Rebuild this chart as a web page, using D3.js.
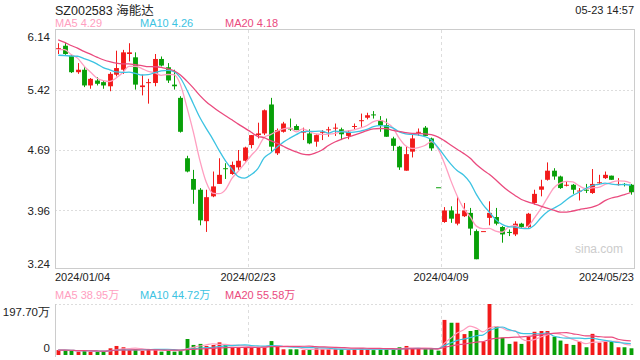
<!DOCTYPE html>
<html>
<head>
<meta charset="utf-8">
<script src="https://cdn.jsdelivr.net/npm/d3@7"></script>
<style>
  body { margin: 0; background: #fff; }
  svg { display: block; font-family: "Liberation Sans", Arial, "Noto Sans CJK SC", sans-serif; }
</style>
</head>
<body>
<div id="chart"></div>
<script>
// SZ002583 daily k-line, 2024/01/04 - 2024/05/23
const title = 'SZ002583 海能达';
const stamp = '05-23 14:57';

// closes of the sessions before 01/04, only used to seed the moving averages
const prevCloses = [6.45, 6.38, 6.30, 6.26, 6.22, 6.18, 6.12, 6.08, 6.04, 6.02,
  5.88, 5.70, 5.68, 5.75, 5.82, 5.86, 5.92, 5.88, 5.94];

const open = [5.91, 5.95, 5.83, 5.63, 5.66, 5.47, 5.53, 5.51, 5.46, 5.60,
  5.66, 5.85, 5.81, 5.45, 5.50, 5.50, 5.79, 5.69, 5.48, 5.32,
  4.59, 4.34, 4.21, 3.83, 4.13, 4.28, 4.47, 4.40, 4.48, 4.56,
  4.75, 4.87, 4.89, 5.24, 4.65, 4.91, 4.95, 4.98, 4.90, 4.89,
  4.79, 4.90, 4.93, 4.95, 4.94, 4.86, 4.97, 5.04, 5.08, 5.12,
  5.05, 4.99, 4.83, 4.73, 4.44, 4.67, 4.90, 4.96, 4.83, 4.24,
  3.82, 3.96, 3.80, 3.89, 3.93, 3.71, 3.71, 3.87, 3.88, 3.76,
  3.70, 3.67, 3.80, 3.76, 4.05, 4.21, 4.33, 4.44, 4.37, 4.26,
  4.27, 4.19, 4.21, 4.17, 4.29, 4.35, 4.38, 4.27, 4.28, 4.27];

const high = [5.98, 5.99, 5.84, 5.74, 5.69, 5.56, 5.57, 5.53, 5.63, 5.89,
  5.90, 5.98, 5.87, 5.60, 5.55, 5.85, 5.82, 5.74, 5.66, 5.34,
  4.62, 4.45, 4.23, 4.21, 4.43, 4.59, 4.53, 4.55, 4.69, 4.73,
  4.87, 5.02, 5.18, 5.32, 4.95, 5.03, 5.07, 5.00, 4.96, 4.94,
  4.88, 4.93, 4.97, 5.01, 4.96, 4.93, 5.01, 5.13, 5.14, 5.16,
  5.10, 5.07, 4.85, 4.74, 4.73, 4.88, 4.95, 4.98, 4.84, 4.24,
  4.00, 4.01, 4.13, 4.05, 3.99, 3.73, 3.71, 4.07, 3.99, 3.77,
  3.73, 3.83, 3.81, 3.93, 4.21, 4.33, 4.54, 4.47, 4.38, 4.31,
  4.28, 4.23, 4.28, 4.46, 4.39, 4.43, 4.38, 4.35, 4.29, 4.28];

const low = [5.85, 5.84, 5.62, 5.61, 5.45, 5.43, 5.47, 5.43, 5.40, 5.58,
  5.61, 5.76, 5.42, 5.35, 5.25, 5.46, 5.70, 5.50, 5.42, 4.90,
  4.42, 4.04, 3.78, 3.70, 4.12, 4.28, 4.34, 4.39, 4.45, 4.55,
  4.71, 4.83, 4.87, 4.67, 4.63, 4.90, 4.92, 4.93, 4.81, 4.76,
  4.73, 4.81, 4.85, 4.86, 4.81, 4.82, 4.94, 4.97, 5.06, 5.07,
  4.91, 4.85, 4.68, 4.45, 4.44, 4.60, 4.86, 4.86, 4.68, 4.24,
  3.81, 3.81, 3.78, 3.88, 3.66, 3.37, 3.71, 3.78, 3.78, 3.57,
  3.65, 3.65, 3.75, 3.75, 4.03, 4.13, 4.32, 4.33, 4.22, 4.25,
  4.16, 4.08, 4.17, 4.16, 4.28, 4.34, 4.33, 4.26, 4.25, 4.15];

const close = [5.92, 5.85, 5.63, 5.66, 5.47, 5.55, 5.49, 5.47, 5.61, 5.68,
  5.87, 5.87, 5.48, 5.47, 5.51, 5.79, 5.71, 5.53, 5.46, 4.91,
  4.43, 4.21, 3.84, 4.12, 4.25, 4.39, 4.46, 4.51, 4.56, 4.72,
  4.87, 4.89, 5.17, 4.73, 4.93, 5.01, 4.94, 4.93, 4.92, 4.77,
  4.87, 4.91, 4.94, 4.96, 4.88, 4.91, 4.98, 5.05, 5.11, 5.11,
  4.99, 4.85, 4.74, 4.48, 4.64, 4.83, 4.91, 4.86, 4.71, 4.24,
  3.96, 3.86, 3.92, 3.96, 3.74, 3.37, 3.71, 3.93, 3.80, 3.67,
  3.69, 3.80, 3.76, 3.92, 4.16, 4.25, 4.44, 4.37, 4.23, 4.27,
  4.21, 4.20, 4.20, 4.28, 4.30, 4.39, 4.33, 4.28, 4.27, 4.18];

// volume, in 万 shares
const volume = [19, 19, 17, 13, 17, 12, 13, 13, 26, 35,
  30, 19, 22, 16, 22, 22, 13, 17, 13, 17,
  62, 39, 43, 35, 39, 49, 39, 30, 30, 30,
  30, 30, 30, 54, 35, 22, 22, 22, 19, 22,
  26, 23, 23, 23, 23, 19, 23, 26, 23, 19,
  23, 23, 23, 30, 35, 26, 26, 23, 23, 17,
  136, 125, 125, 81, 93, 97, 52, 197.7, 112, 67,
  43, 52, 43, 71, 90, 93, 93, 71, 56, 43,
  39, 52, 30, 82, 48, 52, 52, 30, 30, 26];

const priceTicks = [6.14, 5.42, 4.69, 3.96, 3.24];
const volTicks = [197.70, 0];
const dateTicks = [0, 30, 60, 89];
const dateLabels = ['2024/01/04', '2024/02/23', '2024/04/09', '2024/05/23'];
const maPeriods = [5, 10, 20];
const maColors = ['#ff9ec0', '#3cc3e2', '#ea4a7e'];
const priceLegend = ['MA5 4.29', 'MA10 4.26', 'MA20 4.18'];
const volLegend = ['MA5 38.95万', 'MA10 44.72万', 'MA20 55.58万'];

const width = 640, height = 360;
const left = 55, right = 634;
const pTop = 30, pBottom = 270;
const vTop = 304, vBottom = 355;
const upColor = '#f21a1a', downColor = '#08a008';
const n = close.length;

const svg = d3.select('#chart').append('svg')
  .attr('width', width).attr('height', height);

const x = d3.scaleLinear().domain([0, n]).range([left, right]);
const y = d3.scaleLinear().domain([3.24, 6.14]).range([pBottom, pTop]);
const yv = d3.scaleLinear().domain([0, 197.70]).range([vBottom, vTop]);
const step = x(1) - x(0);
const bodyW = step * 0.76;
const cx = i => x(i + 0.5);

const isUp = i => close[i] > open[i] ||
  (close[i] === open[i] && close[i] >= (i ? close[i - 1] : prevCloses[prevCloses.length - 1]));

// moving averages of close (seeded with earlier closes) and of volume
const allClose = prevCloses.concat(close);
const off = prevCloses.length;
const priceMA = maPeriods.map(p => close.map((c, i) =>
  d3.mean(allClose.slice(Math.max(0, i + off - p + 1), i + off + 1))));
const volMA = maPeriods.map(p => volume.map((v, i) =>
  d3.mean(volume.slice(Math.max(0, i - p + 1), i + 1))));

// header
svg.append('text').attr('x', left).attr('y', 15)
  .attr('font-size', 12.5).attr('fill', '#222').text(title);
svg.append('text').attr('x', right).attr('y', 14).attr('text-anchor', 'end')
  .attr('font-size', 11).attr('fill', '#222').text(stamp);

const legendX = [55, 140, 225];
svg.append('g').selectAll('text').data(priceLegend).join('text')
  .attr('x', (d, k) => legendX[k]).attr('y', 27)
  .attr('font-size', 11).attr('fill', (d, k) => maColors[k]).text(d => d);
svg.append('g').selectAll('text').data(volLegend).join('text')
  .attr('x', (d, k) => legendX[k]).attr('y', 299)
  .attr('font-size', 11).attr('fill', (d, k) => maColors[k]).text(d => d);

// grid
const grid = svg.append('g');
grid.selectAll('.hg').data(priceTicks.slice(1, -1)).join('line')
  .attr('x1', left).attr('x2', right)
  .attr('y1', d => Math.round(y(d)) + 0.5).attr('y2', d => Math.round(y(d)) + 0.5)
  .attr('stroke', '#ddd').attr('stroke-dasharray', '2,2');
grid.selectAll('.vg').data(dateTicks.slice(1, -1)).join('line')
  .attr('x1', d => Math.round(x(d)) + 0.5).attr('x2', d => Math.round(x(d)) + 0.5)
  .attr('y1', pTop).attr('y2', pBottom)
  .attr('stroke', '#ddd').attr('stroke-dasharray', '3,3');
grid.selectAll('.vg2').data(dateTicks.slice(1, -1)).join('line')
  .attr('x1', d => Math.round(x(d)) + 0.5).attr('x2', d => Math.round(x(d)) + 0.5)
  .attr('y1', vTop).attr('y2', vBottom)
  .attr('stroke', '#ddd').attr('stroke-dasharray', '3,3');
grid.append('line').attr('x1', left).attr('x2', right)
  .attr('y1', vTop + 0.5).attr('y2', vTop + 0.5)
  .attr('stroke', '#ddd').attr('stroke-dasharray', '2,2');

// price panel frame
svg.append('rect').attr('x', left + 0.5).attr('y', pTop - 0.5)
  .attr('width', right - left).attr('height', pBottom - pTop - 1)
  .attr('fill', 'none').attr('stroke', '#ccc');
svg.append('line').attr('x1', left + 0.5).attr('x2', left + 0.5)
  .attr('y1', vTop).attr('y2', vBottom + 2).attr('stroke', '#ccc');

svg.append('text').attr('x', 623).attr('y', 253).attr('text-anchor', 'end')
  .attr('font-size', 12).attr('fill', '#ccc').text('sina.com');

// y axes
const yAxis = svg.append('g').attr('transform', `translate(${left},0)`)
  .call(d3.axisLeft(y).tickValues(priceTicks).tickFormat(d3.format('.2f')).tickSize(0).tickPadding(5));
yAxis.select('.domain').remove();
yAxis.selectAll('text').attr('font-size', 11.5).attr('fill', '#222')
  .attr('font-family', null)
  .attr('dy', (d, k) => k === 0 ? '0.95em' : (k === priceTicks.length - 1 ? '-0.25em' : '0.32em'));

const vAxis = svg.append('g').attr('transform', `translate(${left},0)`)
  .call(d3.axisLeft(yv).tickValues(volTicks).tickFormat(d => d ? d3.format('.2f')(d) + '万' : '0').tickSize(0).tickPadding(5));
vAxis.select('.domain').remove();
vAxis.selectAll('text').attr('font-size', 11.5).attr('fill', '#222')
  .attr('font-family', null)
  .attr('dy', d => d ? '1.0em' : '-0.3em');

// date labels
svg.append('g').selectAll('text').data(dateTicks).join('text')
  .attr('x', (d, k) => k === 0 ? x(d) : (k === dateTicks.length - 1 ? x(d + 1) : x(d)))
  .attr('y', 281)
  .attr('text-anchor', (d, k) => k === 0 ? 'start' : (k === dateTicks.length - 1 ? 'end' : 'middle'))
  .attr('font-size', 11).attr('fill', '#222')
  .text((d, k) => dateLabels[k]);

// candles
const idx = d3.range(n);
const candles = svg.append('g').selectAll('g').data(idx).join('g');
candles.append('line')
  .attr('x1', i => Math.round(cx(i)) + 0.5).attr('x2', i => Math.round(cx(i)) + 0.5)
  .attr('y1', i => y(high[i])).attr('y2', i => y(low[i]))
  .attr('stroke', i => isUp(i) ? upColor : downColor).attr('stroke-width', 1);
candles.append('rect')
  .attr('x', i => Math.round(cx(i)) + 0.5 - bodyW / 2)
  .attr('width', bodyW)
  .attr('y', i => y(Math.max(open[i], close[i])))
  .attr('height', i => Math.max(1, Math.abs(y(open[i]) - y(close[i]))))
  .attr('fill', i => isUp(i) ? upColor : downColor);

// price moving averages
const line = d3.line().x((d, i) => cx(i)).y(d => y(d)).curve(d3.curveMonotoneX);
svg.append('g').selectAll('path').data(priceMA).join('path')
  .attr('d', line).attr('fill', 'none')
  .attr('stroke', (d, k) => maColors[k]).attr('stroke-width', 1.3);

// volume bars
svg.append('g').selectAll('rect').data(idx).join('rect')
  .attr('x', i => Math.round(cx(i)) + 0.5 - step * 0.3)
  .attr('width', step * 0.6)
  .attr('y', i => yv(volume[i]))
  .attr('height', i => vBottom - yv(volume[i]))
  .attr('fill', i => isUp(i) ? upColor : downColor);

const vline = d3.line().x((d, i) => cx(i)).y(d => yv(d)).curve(d3.curveMonotoneX);
svg.append('g').selectAll('path').data(volMA).join('path')
  .attr('d', vline).attr('fill', 'none')
  .attr('stroke', (d, k) => maColors[k]).attr('stroke-width', 1.2);
</script>
</body>
</html>
